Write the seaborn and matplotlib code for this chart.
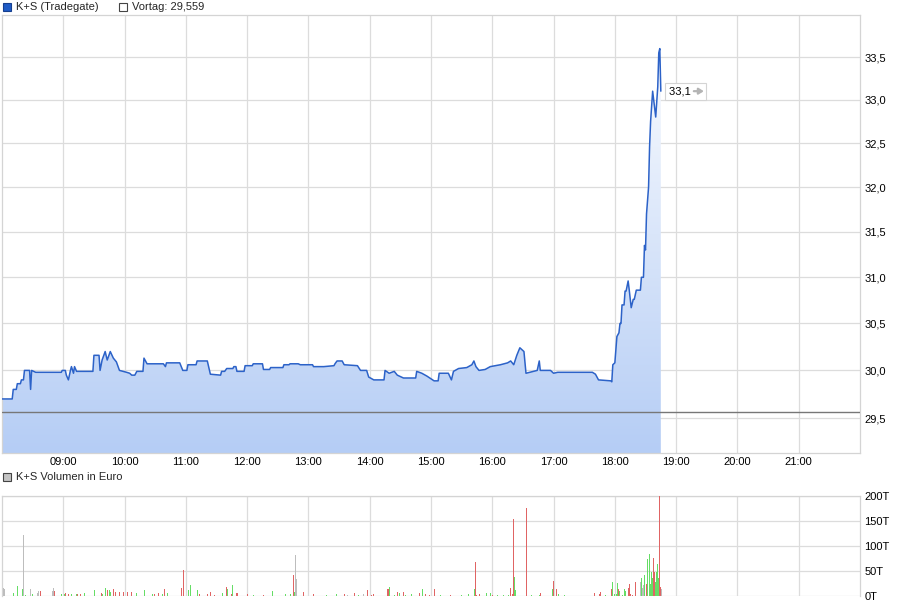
import numpy as np
import pandas as pd
import matplotlib
matplotlib.use("Agg")
import matplotlib.pyplot as plt
import matplotlib.transforms as mtransforms
import seaborn as sns
from matplotlib.ticker import FixedLocator, NullLocator
from matplotlib.patches import Rectangle

# ---------------- data ----------------
price_times = ["08:00","08:10","08:11","08:14","08:15","08:18","08:19","08:21","08:22","08:27",
    "08:28","08:29","08:33","08:58","08:59","09:02","09:03","09:05","09:07","09:08",
    "09:10","09:11","09:13","09:29","09:30","09:35","09:36","09:38","09:41","09:43",
    "09:46","09:49","09:52","09:55","10:02","10:05","10:07","10:10","10:12","10:18",
    "10:19","10:22","10:38","10:40","10:41","10:54","10:57","11:01","11:02","11:10",
    "11:11","11:21","11:24","11:34","11:35","11:38","11:40","11:46","11:47","11:49",
    "11:50","11:57","11:58","12:05","12:06","12:15","12:16","12:22","12:23","12:35",
    "12:36","12:41","12:42","12:50","12:52","13:04","13:05","13:15","13:25","13:26",
    "13:28","13:33","13:35","13:48","13:51","13:57","13:59","14:04","14:14","14:15",
    "14:19","14:24","14:27","14:33","14:45","14:46","14:51","14:56","15:03","15:07",
    "15:08","15:17","15:20","15:22","15:27","15:35","15:40","15:42","15:44","15:47",
    "15:53","15:58","16:08","16:15","16:18","16:21","16:24","16:27","16:31","16:33",
    "16:44","16:46","16:47","16:57","17:00","17:04","17:38","17:41","17:44","17:56",
    "17:57","17:58","18:00","18:02","18:04","18:05","18:06","18:07","18:09","18:10",
    "18:11","18:13","18:14","18:16","18:18","18:19","18:21","18:25","18:26","18:28",
    "18:29","18:30","18:31","18:33","18:34","18:35","18:37","18:40","18:42","18:43",
    "18:44","18:45"]
price_values = [29.70,29.70,29.80,29.80,29.86,29.86,29.90,29.90,30.00,30.00,
    29.80,30.00,29.98,29.98,30.00,30.00,29.95,29.90,30.00,30.04,
    29.97,30.04,29.99,29.99,30.16,30.16,30.00,30.11,30.20,30.11,
    30.20,30.13,30.09,30.00,29.98,29.97,29.95,29.95,29.99,29.99,
    30.13,30.07,30.07,30.04,30.08,30.08,30.00,30.00,30.06,30.06,
    30.10,30.10,29.96,29.95,29.99,29.99,30.02,30.02,30.04,30.04,
    29.99,29.99,30.05,30.05,30.07,30.07,30.01,30.01,30.03,30.03,
    30.06,30.06,30.07,30.07,30.06,30.06,30.04,30.04,30.05,30.07,
    30.10,30.10,30.06,30.05,30.00,30.00,29.93,29.90,29.90,30.00,
    29.97,29.99,29.95,29.92,29.92,29.99,29.97,29.94,29.89,29.89,
    29.97,29.97,29.90,29.99,30.02,30.03,30.06,30.10,30.04,30.00,
    30.01,30.04,30.06,30.08,30.10,30.06,30.16,30.24,30.20,29.97,
    30.00,30.10,30.00,30.00,29.97,29.98,29.98,29.96,29.90,29.89,
    29.88,30.06,30.08,30.36,30.40,30.50,30.50,30.70,30.70,30.85,
    30.85,30.96,30.87,30.67,30.76,30.76,30.86,30.86,31.00,31.00,
    31.35,31.30,31.70,32.00,32.46,32.75,33.10,32.80,33.15,33.55,
    33.60,33.10]

vol_times = ["08:01","08:02","08:11","08:15","08:20","08:21","08:23","08:27","08:29","08:34",
    "08:35","08:37","08:49","08:50","08:51","08:58","09:01","09:02","09:05","09:08",
    "09:12","09:13","09:16","09:20","09:30","09:37","09:38","09:41","09:43","09:45",
    "09:46","09:49","09:51","09:55","09:58","10:02","10:06","10:11","10:19","10:27",
    "10:29","10:33","10:37","10:39","10:42","10:55","10:57","11:02","11:04","11:11",
    "11:13","11:21","11:24","11:28","11:35","11:39","11:40","11:44","11:45","11:49",
    "11:50","12:00","12:06","12:16","12:24","12:37","12:42","12:45","12:46","12:47",
    "12:48","12:55","13:04","13:17","13:27","13:35","13:38","13:45","13:49","13:53",
    "13:57","14:01","14:03","14:17","14:18","14:19","14:24","14:27","14:29","14:33",
    "14:35","14:40","14:48","14:51","14:54","14:58","15:03","15:09","15:19","15:29",
    "15:36","15:42","15:43","15:44","15:47","15:54","15:58","16:00","16:05","16:10",
    "16:15","16:17","16:19","16:20","16:21","16:22","16:33","16:38","16:46","16:47",
    "16:58","16:59","17:02","17:04","17:10","17:40","17:44","17:45","17:50","17:56",
    "17:57","17:59","18:01","18:02","18:03","18:04","18:07","18:09","18:10","18:13",
    "18:14","18:15","18:17","18:20","18:25","18:26","18:27","18:28","18:29","18:30",
    "18:31","18:33","18:34","18:35","18:36","18:37","18:38","18:39","18:40","18:41",
    "18:42","18:43","18:44","18:45"]
vol_values = [15,14,5,20,14,122,2,14,3,5,
    9,10,10,16,9,3,4,6,3,4,
    3,4,3,6,12,5,4,16,12,12,
    8,14,7,7,8,8,8,5,12,4,
    4,6,4,14,6,16,52,12,22,12,
    4,3,8,2,5,18,14,4,22,6,
    6,4,2,2,10,4,4,42,8,82,
    34,8,4,2,4,4,2,6,2,4,
    12,2,4,14,14,18,2,8,6,8,
    2,4,6,14,4,2,14,2,2,2,
    4,14,68,2,4,5,5,2,2,2,
    2,16,4,153,38,12,176,2,2,6,
    14,30,14,4,2,6,4,8,2,14,
    28,4,4,26,14,10,2,14,10,16,
    24,4,2,28,28,36,16,22,42,24,
    74,84,24,48,36,76,48,28,48,64,
    36,200,18,14]
vol_dirs = ["flat","flat","up","up","up","flat","up","flat","up","flat",
    "flat","down","flat","flat","down","up","up","down","down","up",
    "up","down","down","up","up","down","up","up","down","up",
    "up","down","down","down","down","down","down","up","up","up",
    "down","down","up","down","up","down","down","up","up","up",
    "down","down","down","down","up","down","up","down","up","down",
    "down","down","up","down","up","up","up","down","up","flat",
    "flat","down","down","up","up","down","flat","down","up","flat",
    "down","down","down","down","down","up","up","down","up","down",
    "up","up","down","up","down","down","down","up","down","up",
    "up","up","down","down","down","up","up","down","up","up",
    "up","down","down","down","up","up","down","up","up","down",
    "up","down","down","up","up","down","down","down","up","down",
    "up","up","up","up","down","up","up","up","up","down",
    "down","down","down","down","flat","up","flat","flat","up","down",
    "up","up","up","up","up","down","down","up","up","up",
    "up","down","down","flat"]

prev_close = 29.559
last_label = "33,1"
hour_ticks = list(range(9, 22))
price_ticks = [29.5, 30.0, 30.5, 31.0, 31.5, 32.0, 32.5, 33.0, 33.5]
vol_ticks = [0, 50, 100, 150, 200]
vol_tick_labels = ["0T", "50T", "100T", "150T", "200T"]


def to_hours(s):
    h, m = s.split(":")
    return int(h) + int(m) / 60.0


# ---------------- style ----------------
sns.set_style("white")
plt.rcParams["font.family"] = ["Liberation Sans", "DejaVu Sans"]
plt.rcParams["font.size"] = 8

W, H = 907, 607
fig = plt.figure(figsize=(W / 100, H / 100), dpi=100)
fig.patch.set_facecolor("white")

GRID = "#dcdcdc"
LINE = "#2c62c8"

ax = fig.add_axes([2 / W, (H - 453) / H, 858 / W, 438 / H])
axv = fig.add_axes([2 / W, (H - 595.5) / H, 858 / W, 99.5 / H])

price_df = pd.DataFrame({"t": [to_hours(s) for s in price_times], "price": price_values})

XMIN, XMAX = 8.0, 22.0
YMIN, YMAX = 29.14, 34.0

ax.set_yscale("log")

# gradient fill under the line
fill = ax.fill_between(price_df["t"], price_df["price"], 25.0, facecolor="none", edgecolor="none")
c_bot = np.array([181, 205, 245]) / 255.0
c_top = np.array([255, 255, 255]) / 255.0
n = 256
frac = np.linspace(0, 1, n)[:, None]
grad = c_bot[None, :] * (1 - frac) + c_top[None, :] * frac
grad = grad[:, None, :]
im = ax.imshow(grad, extent=[0, 1, 0, 1], transform=ax.transAxes, origin="lower",
               aspect="auto", zorder=1, interpolation="bilinear")
im.set_clip_path(fill.get_paths()[0], transform=ax.transData)

sns.lineplot(data=price_df, x="t", y="price", ax=ax, color=LINE, linewidth=1.1,
             estimator=None, sort=False, zorder=4)
ax.axhline(prev_close, color="#777777", linewidth=1.0, zorder=3)

ax.set_xlim(XMIN, XMAX)
ax.set_ylim(YMIN, YMAX)
ax.yaxis.set_major_locator(FixedLocator(price_ticks))
ax.yaxis.set_minor_locator(NullLocator())
ax.set_yticklabels([f"{v:.1f}".replace(".", ",") for v in price_ticks])
ax.yaxis.tick_right()
ax.set_xticks(hour_ticks)
ax.set_xticklabels([f"{h:02d}:00" for h in hour_ticks])
ax.xaxis.set_minor_locator(NullLocator())
ax.tick_params(axis="x", length=0, pad=3, labelsize=8, colors="black")
ax.tick_params(axis="y", length=0, pad=3, labelsize=8, colors="black")
ax.grid(True, color=GRID, linewidth=0.9, zorder=0)
ax.set_axisbelow(True)
ax.set_xlabel("")
ax.set_ylabel("")
for sp in ax.spines.values():
    sp.set_color("#d4d4d4")
    sp.set_linewidth(0.9)

# last value label with grey arrow inside the box
t_last = price_df["t"].iloc[-1]
ax.annotate(last_label + "    ", xy=(t_last, 33.1), xytext=(8, 0), textcoords="offset pixels",
            ha="left", va="center", fontsize=8, color="black", zorder=6,
            bbox=dict(boxstyle="square,pad=0.3", fc="white", ec="#d4d4d4", lw=0.8))
arrow_tail = mtransforms.offset_copy(ax.transData, fig=fig, x=33, y=0, units="dots")
arrow_head = mtransforms.offset_copy(ax.transData, fig=fig, x=43, y=0, units="dots")
ax.annotate("", xy=(t_last, 33.1), xycoords=arrow_head,
            xytext=(t_last, 33.1), textcoords=arrow_tail, zorder=8,
            arrowprops=dict(arrowstyle="-|>,head_length=0.35,head_width=0.22",
                            color="#b4b4b4", lw=1.6, shrinkA=0, shrinkB=0))

# ---------------- volume ----------------
vol_df = pd.DataFrame({"t": [to_hours(s) for s in vol_times], "v": vol_values, "dir": vol_dirs})
palette = {"up": "#66dd66", "down": "#e06464", "flat": "#bdbdbd"}
axv.vlines(vol_df["t"], 0, vol_df["v"], colors=[palette[d] for d in vol_df["dir"]],
           linewidth=0.5, antialiased=False, zorder=3)
axv.set_xlim(XMIN, XMAX)
axv.set_ylim(0, 200)
axv.set_yticks(vol_ticks)
axv.set_yticklabels(vol_tick_labels)
axv.yaxis.tick_right()
axv.set_xticks(hour_ticks)
axv.set_xticklabels([])
axv.tick_params(axis="both", length=0, pad=3, labelsize=8, colors="black")
axv.grid(True, color=GRID, linewidth=0.9, zorder=0)
axv.set_axisbelow(True)
axv.set_xlabel("")
axv.set_ylabel("")
for name, sp in axv.spines.items():
    sp.set_color("#d4d4d4")
    sp.set_linewidth(0.9)
axv.spines["bottom"].set_visible(False)

# ---------------- legends ----------------
def fig_rect(x, y, w, h, fc, ec):
    fig.patches.append(Rectangle((x / W, 1 - (y + h) / H), w / W, h / H,
                                 transform=fig.transFigure, facecolor=fc,
                                 edgecolor=ec, linewidth=0.8))

fig_rect(3, 3, 8, 8, "#1f5bc6", "#163f8f")
fig.text(16 / W, 1 - 7 / H, "K+S (Tradegate)", ha="left", va="center", fontsize=8)
fig_rect(119, 3, 8, 8, "white", "#444444")
fig.text(132 / W, 1 - 7 / H, f"Vortag: {prev_close:.3f}".replace(".", ","),
         ha="left", va="center", fontsize=8)
fig_rect(3, 473, 8, 8, "#c4c4c4", "#444444")
fig.text(16 / W, 1 - 477.5 / H, "K+S Volumen in Euro", ha="left", va="center", fontsize=8)

fig.savefig("out.png", dpi=100, facecolor="white")
